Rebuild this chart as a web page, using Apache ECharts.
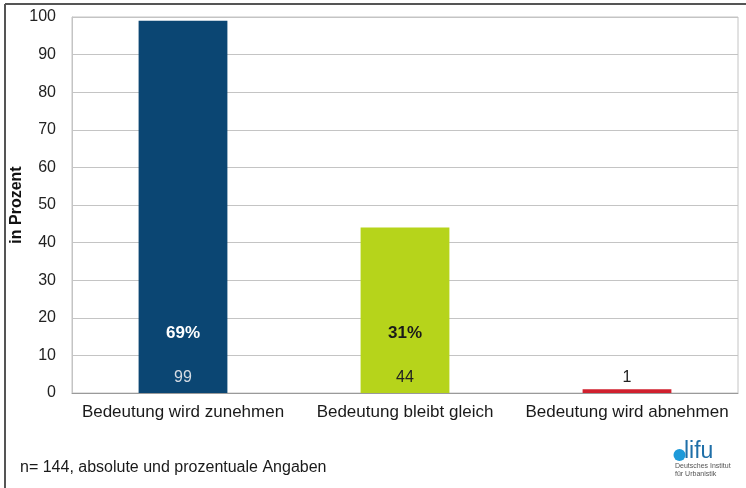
<!DOCTYPE html>
<html>
<head>
<meta charset="utf-8">
<script src="https://cdn.jsdelivr.net/npm/echarts@6/dist/echarts.min.js"></script>
<style>
html,body{margin:0;padding:0;background:#fff;}
#c{width:746px;height:488px;}
</style>
</head>
<body>
<div id="c"></div>
<script>
const categories = ['Bedeutung wird zunehmen', 'Bedeutung bleibt gleich', 'Bedeutung wird abnehmen'];
const counts = [99, 44, 1];
const percents = [69, 31, null];
const barColors = ['#0b4673', '#b6d41b', '#d0202e'];
const countLabelColors = ['#d5dbe3', '#222222', '#222222'];
const percentLabelColors = ['#ffffff', '#1a1a1a', '#1a1a1a'];
const yTicks = {min: 0, max: 100, interval: 10};
const yAxisName = 'in Prozent';
const footnote = 'n= 144, absolute und prozentuale Angaben';

const font = '"Liberation Sans", Arial, sans-serif';
const chart = echarts.init(document.getElementById('c'), null, {renderer: 'canvas'});

const data = counts.map((v, i) => ({
  value: v,
  itemStyle: {color: barColors[i]},
  label: {
    rich: {
      p: {fontFamily: font, fontSize: 17, fontWeight: 'bold', color: percentLabelColors[i], lineHeight: 70, align: 'center'},
      v: {fontFamily: font, fontSize: 16, color: countLabelColors[i], lineHeight: 20, align: 'center'}
    }
  }
}));

chart.setOption({
  animation: false,
  backgroundColor: '#fff',
  grid: {left: 72, top: 17, right: 8, bottom: 95, show: true, borderColor: '#c4c4c4', borderWidth: 1, containLabel: false, outerBoundsMode: 'none'},
  xAxis: {
    type: 'category',
    data: categories,
    axisLine: {lineStyle: {color: '#9a9a9a'}},
    axisTick: {show: false},
    axisLabel: {fontFamily: font, fontSize: 17, color: '#1a1a1a', margin: 11, interval: 0}
  },
  yAxis: {
    type: 'value',
    min: yTicks.min, max: yTicks.max, interval: yTicks.interval,
    name: yAxisName,
    nameLocation: 'middle',
    nameGap: 47,
    nameRotate: 90,
    nameMoveOverlap: false,
    nameTextStyle: {fontFamily: font, fontSize: 16, fontWeight: 'bold', color: '#111'},
    axisLine: {show: true, lineStyle: {color: '#c4c4c4'}},
    axisTick: {show: false},
    axisLabel: {fontFamily: font, fontSize: 16, color: '#222', margin: 16},
    splitLine: {lineStyle: {color: '#c4c4c4', width: 1}}
  },
  series: [{
    type: 'bar',
    data: data,
    barWidth: '40%',
    label: {
      show: true,
      position: 'insideBottom',
      distance: 5,
      formatter: p => {
        const pc = percents[p.dataIndex];
        return (pc != null ? '{p|' + pc + '%}\n' : '') + '{v|' + p.value + '}';
      }
    }
  }],
  graphic: [
    {type: 'line', shape: {x1: 5, y1: 4, x2: 746, y2: 4}, style: {stroke: '#555', lineWidth: 2}},
    {type: 'line', shape: {x1: 5, y1: 4, x2: 5, y2: 488}, style: {stroke: '#555', lineWidth: 2}},
    {type: 'text', x: 20, y: 460, style: {text: footnote, font: '16px ' + font, fill: '#1a1a1a'}},
    {type: 'circle', shape: {cx: 679.5, cy: 455, r: 6}, style: {fill: '#1e9ad9'}},
    {type: 'text', x: 684, y: 440, style: {text: 'lifu', font: '23px ' + font, fill: '#1f6fa8'}},
    {type: 'text', x: 675, y: 463, style: {text: 'Deutsches Institut', font: '7px ' + font, fill: '#555'}},
    {type: 'text', x: 675, y: 471, style: {text: 'für Urbanistik', font: '7px ' + font, fill: '#555'}}
  ]
});
</script>
</body>
</html>
